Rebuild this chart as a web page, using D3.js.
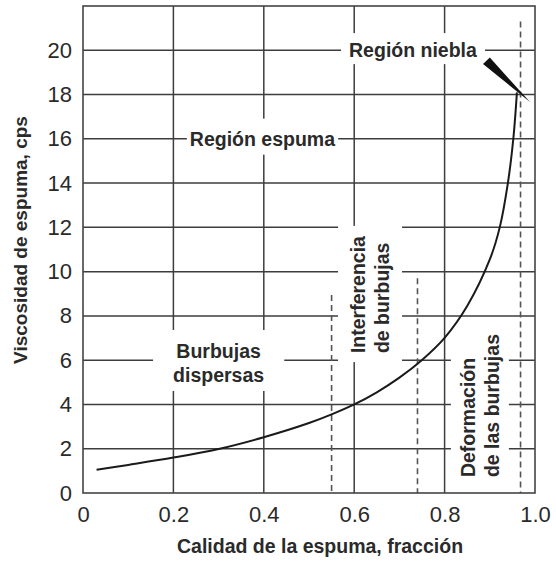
<!DOCTYPE html>
<html>
<head>
<meta charset="utf-8">
<script src="https://cdn.jsdelivr.net/npm/d3@7"></script>
<style>
  html, body { margin: 0; padding: 0; background: #fff; }
  svg { display: block; font-family: "Liberation Sans", Arial, sans-serif; }
</style>
</head>
<body>
<svg id="chart" width="556" height="563"></svg>
<script>
// Foam viscosity vs. foam quality
const quality   = [0.03, 0.10, 0.20, 0.30, 0.40, 0.50, 0.55, 0.60, 0.65, 0.70, 0.75, 0.80, 0.85, 0.90, 0.922, 0.94, 0.952, 0.96];
const viscosity = [1.05, 1.27, 1.60, 1.99, 2.52, 3.16, 3.55, 4.00, 4.55, 5.21, 6.01, 7.01, 8.45, 10.55, 12.0, 14.0, 16.0, 18.1];

const xTicks = [0, 0.2, 0.4, 0.6, 0.8, 1.0];
const xTickLabels = ["0", "0.2", "0.4", "0.6", "0.8", "1.0"];
const yTicks = [0, 2, 4, 6, 8, 10, 12, 14, 16, 18, 20];

// Regime boundaries: [quality, upper viscosity]
const boundaries = [[0.55, 8.95], [0.74, 9.7], [0.968, 21.3]];

// Region labels (anchor in data units)
const regionNames = ["espuma", "niebla", "burbujas", "interferencia", "deformacion"];
const regionLines = [
  ["Región espuma"],
  ["Región niebla"],
  ["Burbujas", "dispersas"],
  ["Interferencia", "de burbujas"],
  ["Deformación", "de las burbujas"]
];
const regionAnchorX = [0.397, 0.730, 0.300, 0.624, 0.867];
const regionAnchorY = [16, 20, 6.1, 6.32, 0.72];

// Pointer wedge for the mist region: [quality, viscosity]
const pointerWedge = [[0.900, 19.67], [0.885, 19.38], [0.989, 17.66]];

const xTitle = "Calidad de la espuma, fracción";
const yTitle = "Viscosidad de espuma, cps";

const svg = d3.select("#chart");
const plotL = 83, plotR = 535, plotT = 6, plotB = 493;

const x = d3.scaleLinear().domain([0, 1]).range([plotL, plotR]);
const y = d3.scaleLinear().domain([0, 22]).range([plotB, plotT]);

const gridColor = "#3d3d3d";
const textColor = "#2a2a2a";

// grid
const grid = svg.append("g");
grid.selectAll("line.h").data(yTicks.filter(d => d > 0)).join("line")
  .attr("x1", plotL).attr("x2", plotR)
  .attr("y1", d => y(d)).attr("y2", d => y(d))
  .attr("stroke", gridColor).attr("stroke-width", 1.5);
grid.selectAll("line.v").data(xTicks.filter(d => d > 0 && d < 1)).join("line")
  .attr("y1", plotT).attr("y2", plotB)
  .attr("x1", d => x(d)).attr("x2", d => x(d))
  .attr("stroke", gridColor).attr("stroke-width", 1.5);

// region labels with white backing that interrupts the grid
const labelStyle = {
  espuma:        { anchor: "middle", rotate: false, padX: 3,  padT: 9,  padB: 5 },
  niebla:        { anchor: "middle", rotate: false, padX: 8,  padT: 6,  padB: 3 },
  burbujas:      { anchor: "middle", rotate: false, padX: 20, padT: 10, padB: 5 },
  interferencia: { anchor: "start",  rotate: true,  padX: 9,  padT: 10, padB: 9 },
  deformacion:   { anchor: "start",  rotate: true,  padX: 6,  padT: 7,  padB: 8 }
};
const backs = svg.append("g");
const labels = svg.append("g");

regionNames.forEach((name, i) => {
  const st = labelStyle[name];
  const ax = x(regionAnchorX[i]), ay = y(regionAnchorY[i]);
  const g = labels.append("g")
    .attr("transform", st.rotate ? `translate(${ax},${ay}) rotate(-90)` : `translate(${ax},${ay})`);
  const t = g.append("text")
    .attr("text-anchor", st.anchor)
    .attr("font-size", 19.5).attr("font-weight", "bold")
    .attr("fill", textColor);
  regionLines[i].forEach((line, j) => {
    t.append("tspan").attr("x", 0)
      .attr("dy", j === 0 ? (name === "espuma" || name === "niebla" ? "0.35em" : 0) : 24)
      .text(line);
  });
  const b = g.node().getBoundingClientRect();
  backs.append("rect")
    .attr("x", b.left - st.padX).attr("y", b.top - st.padT)
    .attr("width", b.width + 2 * st.padX).attr("height", b.height + st.padT + st.padB)
    .attr("fill", "#fff");
});

// regime boundaries
svg.append("g").selectAll("line").data(boundaries).join("line")
  .attr("x1", d => x(d[0])).attr("x2", d => x(d[0]))
  .attr("y1", d => y(d[1])).attr("y2", plotB)
  .attr("stroke", "#555").attr("stroke-width", 1.6)
  .attr("stroke-dasharray", "6,4");

// frame
svg.append("rect")
  .attr("x", plotL).attr("y", plotT)
  .attr("width", plotR - plotL).attr("height", plotB - plotT)
  .attr("fill", "none").attr("stroke", "#444").attr("stroke-width", 1.6);

// viscosity curve
const line = d3.line()
  .x((d, i) => x(quality[i]))
  .y(d => y(d))
  .curve(d3.curveCatmullRom.alpha(0.5));
svg.append("path")
  .datum(viscosity)
  .attr("d", line)
  .attr("fill", "none").attr("stroke", "#1a1a1a").attr("stroke-width", 2);

// pointer to mist region
svg.append("path")
  .attr("d", "M" + pointerWedge.map(p => [x(p[0]), y(p[1])].join(",")).join("L") + "Z")
  .attr("fill", "#111");

// axes
const xAxis = d3.axisBottom(x).tickValues(xTicks).tickFormat((d, i) => xTickLabels[i]).tickSize(0).tickPadding(13);
const gx = svg.append("g").attr("transform", `translate(0,${plotB})`).call(xAxis);
gx.select(".domain").remove();
gx.selectAll("text").attr("font-size", 22).attr("fill", textColor)
  .attr("font-family", "Liberation Sans, Arial, sans-serif");

const yAxis = d3.axisLeft(y).tickValues(yTicks).tickFormat(d3.format("d")).tickSize(0).tickPadding(11);
const gy = svg.append("g").attr("transform", `translate(${plotL},0)`).call(yAxis);
gy.select(".domain").remove();
gy.selectAll("text").attr("font-size", 22).attr("fill", textColor)
  .attr("font-family", "Liberation Sans, Arial, sans-serif");

// axis titles
svg.append("text")
  .attr("x", 320).attr("y", 553)
  .attr("text-anchor", "middle")
  .attr("font-size", 19.5).attr("font-weight", "bold").attr("fill", textColor)
  .text(xTitle);
svg.append("text")
  .attr("transform", "translate(27,240) rotate(-90)")
  .attr("text-anchor", "middle")
  .attr("font-size", 19).attr("font-weight", "bold").attr("fill", textColor)
  .text(yTitle);
</script>
</body>
</html>
